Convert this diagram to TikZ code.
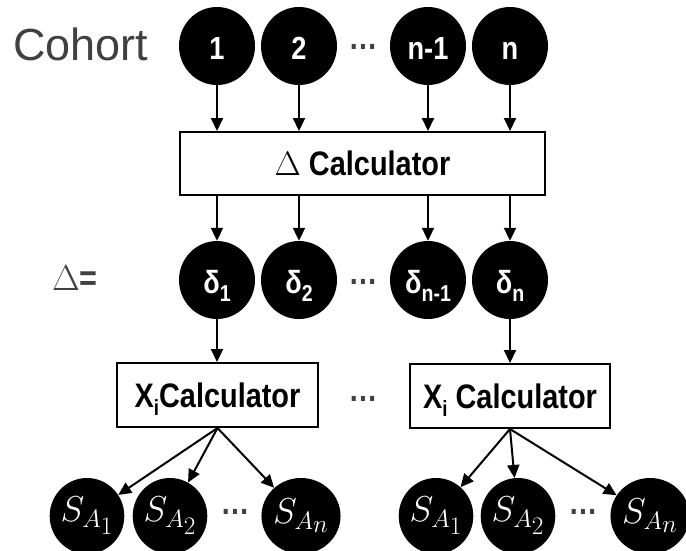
\RequirePackage{fix-cm}
\documentclass[tikz,border=0pt]{standalone}
\usepackage{fontspec}
\newfontfamily\condfont{Liberation Sans}[FakeStretch=0.85]
\newfontfamily\plainsans{Liberation Sans}
\usetikzlibrary{shapes.geometric,arrows.meta}
\definecolor{txtgray}{HTML}{404040}
\begin{document}
\begin{tikzpicture}[x=1pt,y=-1pt,
  blob/.style={ellipse, fill=black, minimum width=76pt, minimum height=78pt, inner sep=0pt, text=white,
    text height=26pt, text depth=0pt,
    font=\condfont\bfseries\fontsize{32}{36}\selectfont},
  sblob/.style={ellipse, fill=black, minimum width=73pt, minimum height=76pt, inner sep=0pt, text=white,
    font=\fontsize{36}{40}\selectfont},
  calcbox/.style={draw=black, line width=2pt, fill=white, inner sep=0pt,
    font=\condfont\bfseries\fontsize{34}{40}\selectfont},
  arr/.style={line width=2pt, -{Triangle[length=13pt,width=12pt]}},
  dotsnode/.style={inner sep=0pt, anchor=base, text=txtgray, font=\condfont\bfseries\fontsize{34}{40}\selectfont},
  label/.style={inner sep=0pt, anchor=base west, text=txtgray}
]
\useasboundingbox (0,0) rectangle (686,550);

% cohort row
\node[label, font=\plainsans\fontsize{45}{50}\selectfont] (coh) at (13,60) {Cohort};
\node[blob] (c1) at (217,46) {1};
\node[blob] (c2) at (299,46) {2};
\node[blob] (c3) at (428,46) {n-1};
\node[blob] (c4) at (510,46) {n};
\node[dotsnode] (t1) at (363,49) {…};

% Delta calculator
\node[calcbox, minimum width=365pt, minimum height=63pt] (dc) at (362.5,163.5) {$\Delta$ Calculator};

% delta row
\node[label, font=\fontsize{36}{40}\selectfont] (dl) at (52,290) {$\Delta$\condfont\bfseries=};
\node[blob] (d1) at (217,280) {δ\smash{\raisebox{-8pt}{\fontsize{23}{24}\selectfont 1}}};
\node[blob] (d2) at (299,280) {δ\smash{\raisebox{-8pt}{\fontsize{23}{24}\selectfont 2}}};
\node[blob] (d3) at (428,280) {δ\smash{\raisebox{-8pt}{\fontsize{23}{24}\selectfont n-1}}};
\node[blob] (d4) at (510,280) {δ\smash{\raisebox{-8pt}{\fontsize{23}{24}\selectfont n}}};
\node[dotsnode] (t2) at (363,284) {…};

% X calculators
\node[calcbox, minimum width=201pt, minimum height=64pt] (x1) at (217.5,395)
  {X\smash{\raisebox{-8pt}{\fontsize{22}{24}\selectfont i}}Calculator};
\node[calcbox, minimum width=200pt, minimum height=64pt] (x2) at (510,396)
  {X\smash{\raisebox{-8pt}{\fontsize{22}{24}\selectfont i}} Calculator};
\node[dotsnode] (t3) at (363,401) {…};

% S rows
\node[sblob] (s1) at (87,516) {$S_{A_{\scriptstyle 1}}$};
\node[sblob] (s2) at (170,516) {$S_{A_{\scriptstyle 2}}$};
\node[sblob] (s3) at (301,516) {$S_{A_{\scriptstyle n}}$};
\node[dotsnode] (t4) at (235,514) {…};
\node[sblob] (r1) at (436,516) {$S_{A_{\scriptstyle 1}}$};
\node[sblob] (r2) at (518,516) {$S_{A_{\scriptstyle 2}}$};
\node[sblob] (r3) at (650,516) {$S_{A_{\scriptstyle n}}$};
\node[dotsnode] (t5) at (583,514) {…};

% arrows
\foreach \c in {c1,c2,c3,c4}
  \draw[arr] (\c.south) -- (\c.south |- dc.north);
\foreach \d in {d1,d2,d3,d4}
  \draw[arr] (\d.north |- dc.south) -- (\d.north);
\draw[arr] (d1.south) -- (d1.south |- x1.north);
\draw[arr] (d4.south) -- (d4.south |- x2.north);
\foreach \s in {s1,s2,s3}
  \draw[arr] (x1.south) -- (\s);
\foreach \s in {r1,r2,r3}
  \draw[arr] (x2.south) -- (\s);
\end{tikzpicture}
\end{document}
